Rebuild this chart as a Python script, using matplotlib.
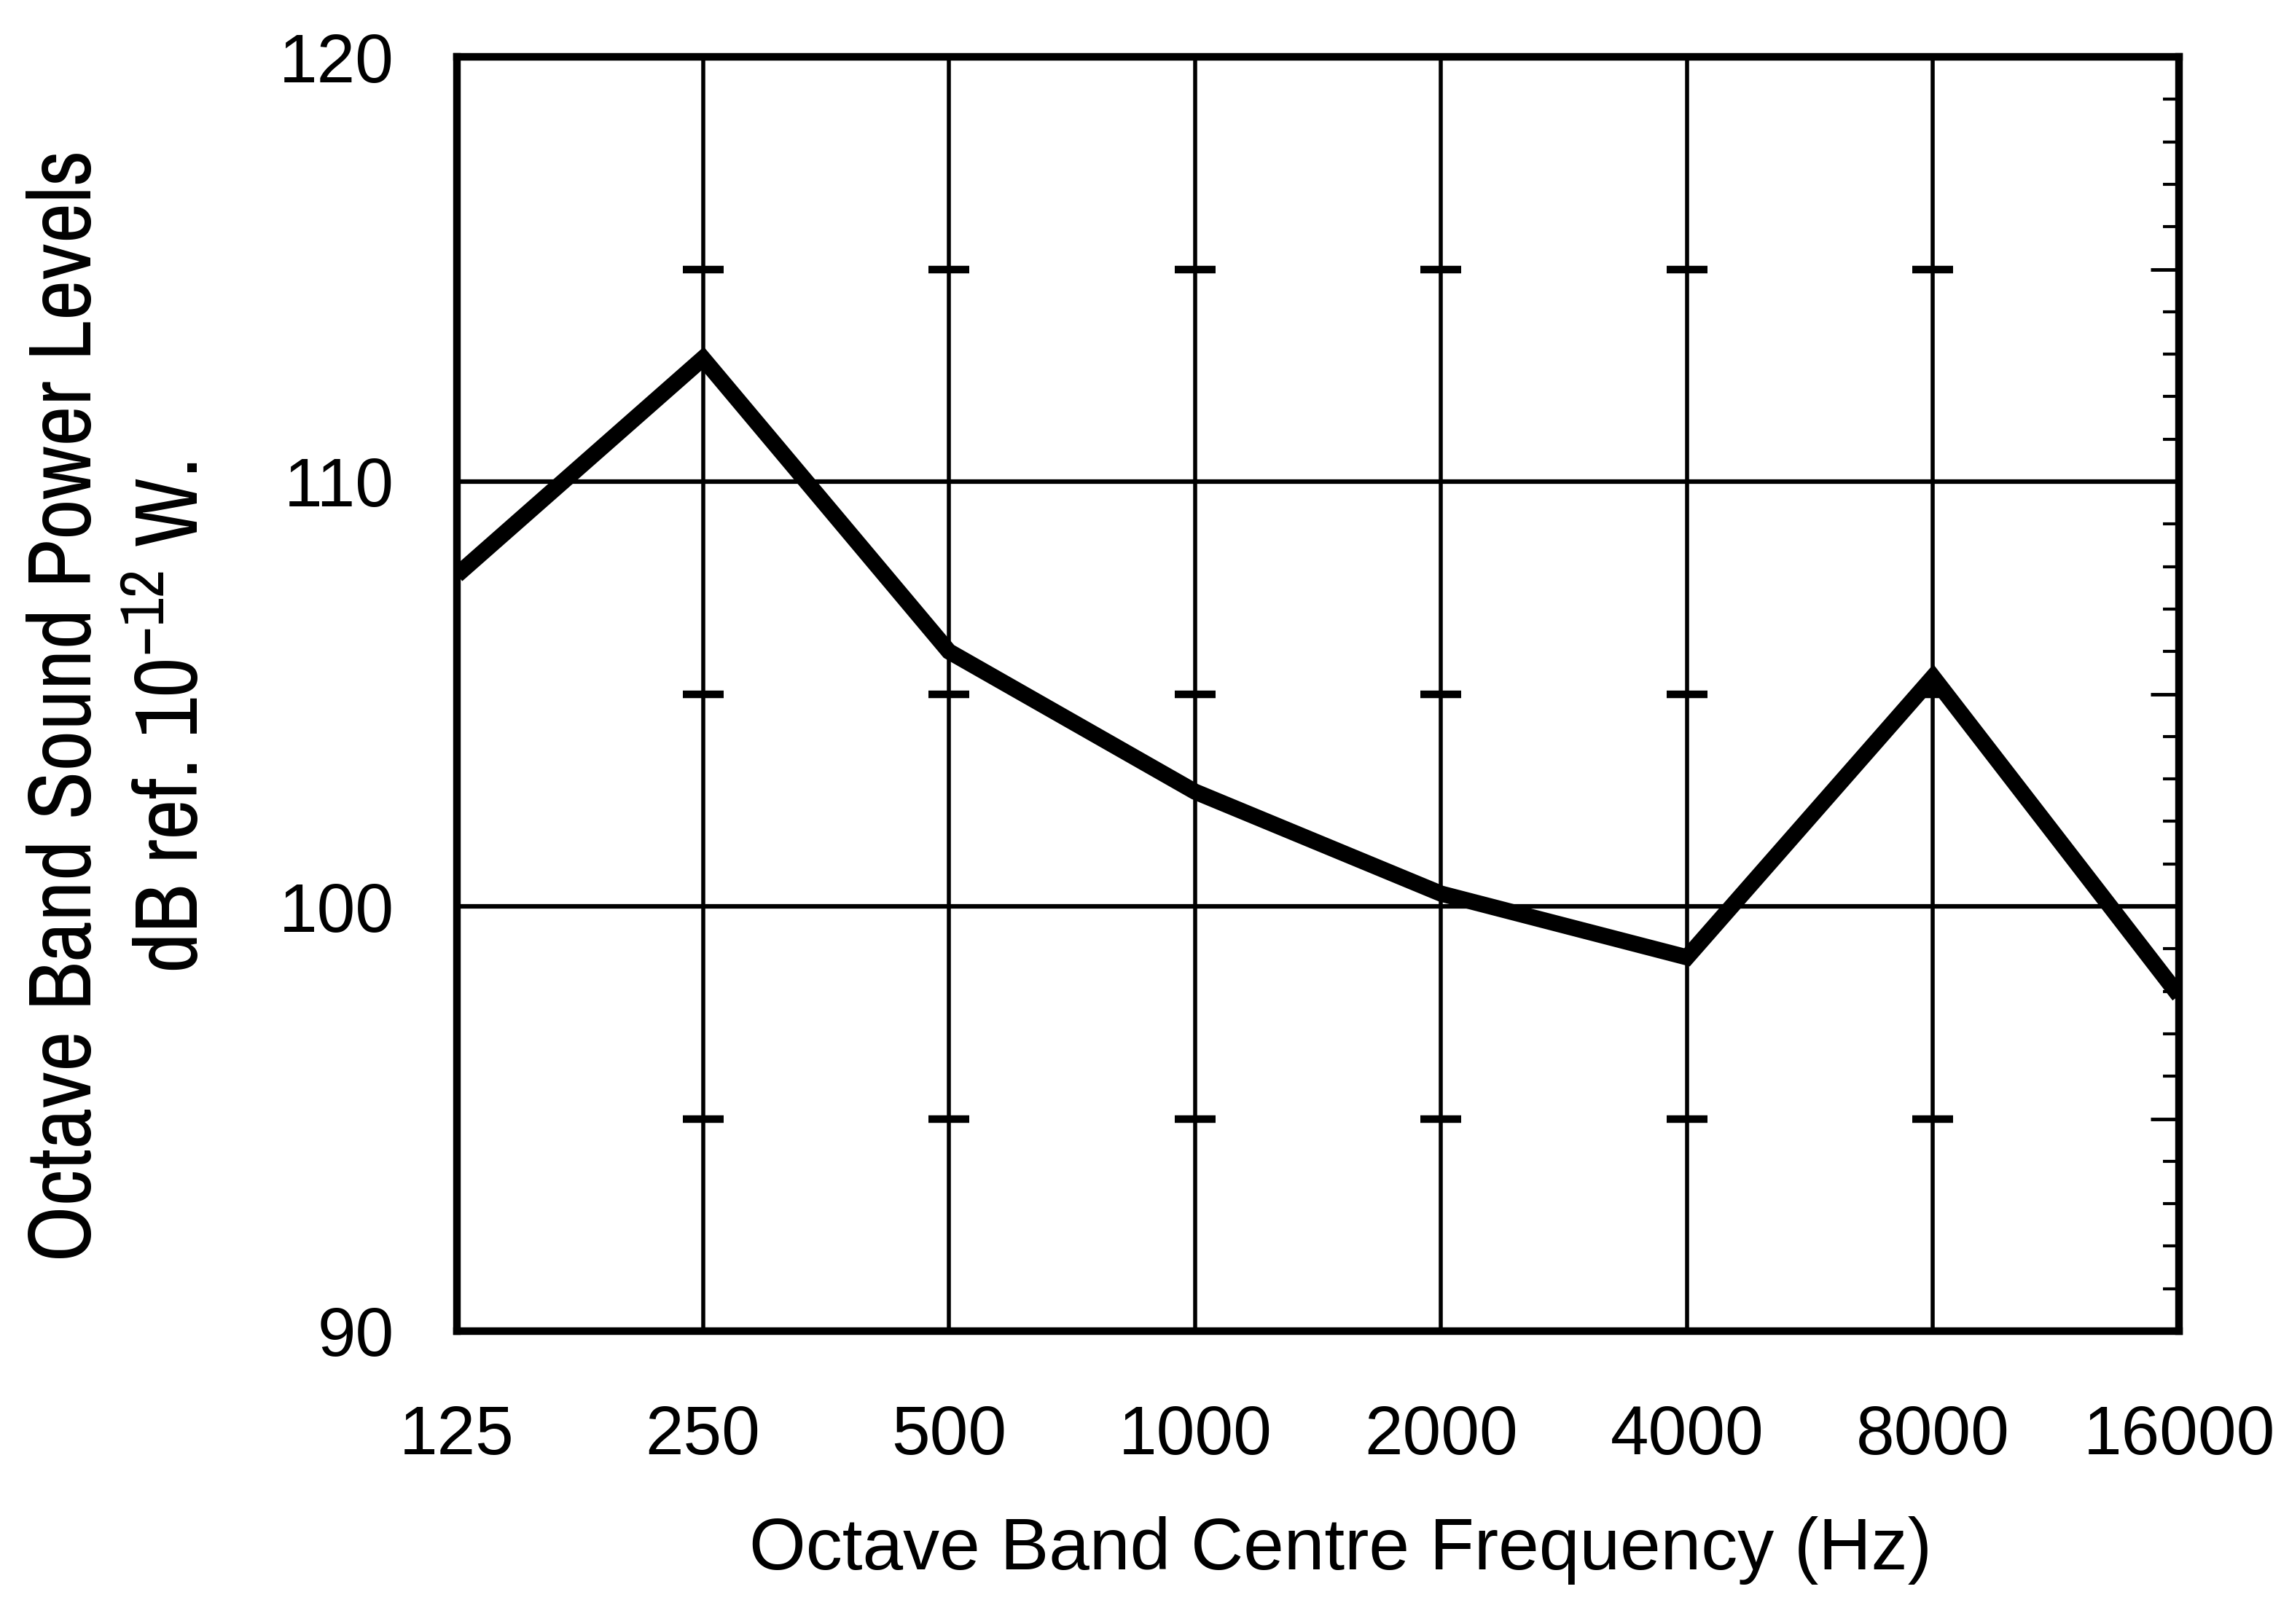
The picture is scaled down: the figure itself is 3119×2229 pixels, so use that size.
import matplotlib
matplotlib.use("Agg")
import matplotlib.pyplot as plt
from matplotlib.ticker import FixedLocator, MultipleLocator, NullFormatter
from matplotlib import font_manager

# ---- data ----
freqs = [125, 250, 500, 1000, 2000, 4000, 8000, 16000]
freq_labels = ["125", "250", "500", "1000", "2000", "4000", "8000", "16000"]
levels = [107.8, 112.9, 106.0, 102.7, 100.3, 98.8, 105.4, 97.9]
y_ticks = [90, 100, 110, 120]
grid_levels = [100, 110]
cross_freqs = [250, 500, 1000, 2000, 4000, 8000]
cross_levels = [95, 105, 115]

names = {f.name for f in font_manager.fontManager.ttflist}
base_font = "Liberation Sans" if "Liberation Sans" in names else "DejaVu Sans"
narrow_font = "Archivo Narrow" if "Archivo Narrow" in names else base_font

plt.rcParams["font.family"] = [base_font, "DejaVu Sans"]
plt.rcParams["mathtext.fontset"] = "custom"
plt.rcParams["mathtext.rm"] = narrow_font
plt.rcParams["mathtext.it"] = narrow_font
plt.rcParams["mathtext.default"] = "rm"

DPI = 100
fig = plt.figure(figsize=(3119 / DPI, 2229 / DPI), dpi=DPI)
fig.patch.set_facecolor("white")

L, R, T, B = 627, 2990, 78, 1827
ax = fig.add_axes([L / 3119, 1 - B / 2229, (R - L) / 3119, (B - T) / 2229])
ax.set_xscale("log", base=2)
ax.set_xlim(freqs[0], freqs[-1])
ax.set_ylim(y_ticks[0], y_ticks[-1])

for f in freqs[1:-1]:
    ax.axvline(f, color="black", lw=4, zorder=1)
for g in grid_levels:
    ax.axhline(g, color="black", lw=4.5, zorder=1)

for lv in cross_levels:
    ax.plot(cross_freqs, [lv] * len(cross_freqs), ls="none", marker="_",
            ms=40, mew=7.5, color="black", zorder=2)

ax.plot(freqs, levels, color="black", lw=16, solid_joinstyle="miter",
        solid_capstyle="butt", zorder=3)

for s in ax.spines.values():
    s.set_linewidth(7.5)
    s.set_zorder(4)

ax.xaxis.set_major_locator(FixedLocator(freqs))
ax.xaxis.set_major_formatter(plt.FixedFormatter(freq_labels))
ax.xaxis.set_minor_formatter(NullFormatter())
ax.xaxis.set_minor_locator(FixedLocator([]))
ax.yaxis.set_major_locator(FixedLocator(y_ticks))
ax.tick_params(axis="x", length=0, pad=72, labelsize=68)
ax.tick_params(axis="y", length=0, pad=62, labelsize=68)

ax2 = ax.twinx()
ax2.set_ylim(y_ticks[0], y_ticks[-1])
ax2.yaxis.set_major_locator(MultipleLocator(5))
ax2.yaxis.set_minor_locator(MultipleLocator(1))
ax2.tick_params(axis="y", which="major", direction="in", length=28, width=3.5,
                labelright=False)
ax2.tick_params(axis="y", which="minor", direction="in", length=16, width=3,
                labelright=False)
for s in ax2.spines.values():
    s.set_visible(False)

fig.text(925 * 1.989 / 3119, 1 - 1070 * 1.989 / 2229,
         "Octave Band Centre Frequency (Hz)", ha="center", va="center",
         fontsize=72)

fig.text(46 * 1.989 / 3119, 1 - 487 * 1.989 / 2229,
         "Octave Band Sound Power Levels", rotation=90, ha="center",
         va="center", fontsize=88, family=[narrow_font, "DejaVu Sans"])
fig.text(119 * 1.989 / 3119, 1 - 495 * 1.989 / 2229,
         r"dB ref. 10$^{-12}$ W.", rotation=90, ha="center",
         va="center", fontsize=88, family=[narrow_font, "DejaVu Sans"])

fig.savefig("out.png", dpi=DPI, facecolor="white")
